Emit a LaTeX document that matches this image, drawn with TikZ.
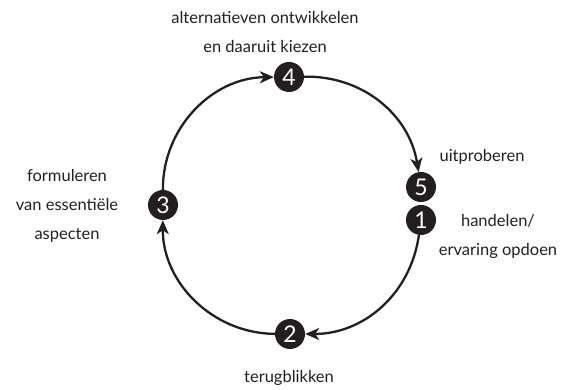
\documentclass[tikz,border=0pt]{standalone}
\usepackage{fontspec}
\setmainfont{Lato}
\usetikzlibrary{arrows.meta}
\definecolor{ink}{HTML}{231F20}
\begin{document}
\begin{tikzpicture}[x=1pt,y=1pt,
  num/.style={circle,fill=ink,text=white,minimum size=30pt,inner sep=0pt,font=\fontsize{23}{23}\selectfont},
  lbl/.style={text=ink,align=center,font=\fontsize{16.5}{29}\selectfont,inner sep=0pt},
  arc/.style={draw=ink,line width=2.3pt,-{Stealth[length=14pt,width=12pt,inset=4pt]}}]
\useasboundingbox (0,0) rectangle (577,390);
\node[num] (n4) at (289,313) {4};
\node[num] (n2) at (290,56) {2};
\node[num] (n3) at (163,185) {3};
\node[num] (n5) at (421,203) {5};
\node[num] (n1) at (421,170) {1};
\draw[arc] (n3) to[bend left=45] (n4);
\draw[arc] (n4) to[bend left=41] (n5);
\draw[arc] (n1) to[bend left=41] (n2);
\draw[arc] (n2) to[bend left=45] (n3);
\node[lbl] (t4) at (265,358) {alternatieven ontwikkelen\\en daaruit kiezen};
\node[lbl] (t5) at (482,233) {uitproberen};
\node[lbl] (t1) at (498,154) {handelen/\\ervaring opdoen};
\node[lbl] (t3) at (67,184) {formuleren\\van essentiële\\aspecten};
\node[lbl] (t2) at (289,12) {terugblikken};
\end{tikzpicture}
\end{document}
